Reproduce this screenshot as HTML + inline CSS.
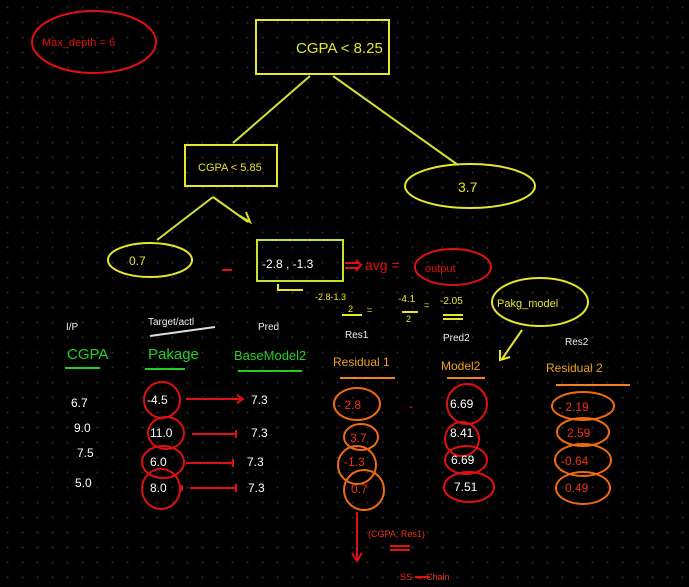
<!DOCTYPE html>
<html><head><meta charset="utf-8"><style>
html,body{margin:0;padding:0;background:#000;}
body{width:689px;height:587px;overflow:hidden;
background-image:radial-gradient(circle,#2a2a2a 0.8px,transparent 1.2px);background-size:15px 15px;}
svg{position:absolute;left:0;top:0;}
text{font-family:"Liberation Sans",sans-serif;}
</style></head><body>
<svg width="689" height="587" viewBox="0 0 689 587">
<g fill="none" stroke-width="2">
<ellipse cx="94" cy="42" rx="62" ry="31" stroke="#e01010"/>
<rect x="256" y="20" width="133" height="54" stroke="#e6e62a"/>
<line x1="310" y1="76" x2="233" y2="143" stroke="#d8e030"/>
<line x1="333" y1="76" x2="458" y2="165" stroke="#d8e030"/>
<rect x="185" y="145" width="92" height="41" stroke="#e6e62a"/>
<ellipse cx="470" cy="186" rx="65" ry="22" stroke="#e6e62a"/>
<line x1="213" y1="197" x2="157" y2="240" stroke="#d8e030"/>
<line x1="213" y1="197" x2="248" y2="222" stroke="#d8e030"/>
<path d="M240 216 L250 222 L246 212" stroke="#d8e030"/>
<ellipse cx="150" cy="260" rx="42" ry="17" stroke="#e6e62a"/>
<rect x="257" y="240" width="86" height="41" stroke="#c8e030"/>
<path d="M278 284 v6 h25" stroke="#e6e62a"/>
<ellipse cx="453" cy="267" rx="38" ry="18" stroke="#e01010"/>
<ellipse cx="540" cy="302" rx="48" ry="24" stroke="#e6e62a"/>
<path d="M522 330 L502 359 M500 350 L500 360 L510 357" stroke="#e6e62a"/>
<line x1="342" y1="315" x2="362" y2="315" stroke="#e6e62a"/>
<line x1="402" y1="312" x2="418" y2="312" stroke="#e6e62a"/>
<path d="M443 315 h20 M443 319 h20" stroke="#e6e62a"/>
<line x1="65" y1="368" x2="100" y2="368" stroke="#20d020"/>
<line x1="145" y1="369" x2="185" y2="369" stroke="#20d020"/>
<line x1="238" y1="371" x2="302" y2="371" stroke="#20d020"/>
<line x1="150" y1="336" x2="215" y2="327" stroke="#ddd"/>
<line x1="340" y1="378" x2="395" y2="378" stroke="#f08020"/>
<line x1="447" y1="378" x2="485" y2="378" stroke="#f08020"/>
<line x1="556" y1="385" x2="630" y2="385" stroke="#f08020"/>
<ellipse cx="162" cy="400" rx="18" ry="18" stroke="#e01010"/>
<ellipse cx="166" cy="433" rx="18" ry="16" stroke="#e01010"/>
<ellipse cx="163" cy="462" rx="21" ry="16" stroke="#e01010"/>
<ellipse cx="161" cy="489" rx="19" ry="20" stroke="#e01010"/>
<g stroke="#e01010">
<line x1="186" y1="399" x2="242" y2="399"/><path d="M237 395 L243 399 L237 403"/>
<line x1="192" y1="434" x2="236" y2="434"/><line x1="236" y1="430" x2="236" y2="438"/>
<line x1="186" y1="463" x2="233" y2="463"/><line x1="233" y1="459" x2="233" y2="467"/>
<line x1="190" y1="488" x2="236" y2="488"/><line x1="236" y1="484" x2="236" y2="492"/>
<line x1="182" y1="485" x2="182" y2="491"/>
<line x1="357" y1="512" x2="357" y2="560"/><path d="M352 553 L357 561 L362 553"/>
<line x1="232" y1="270" x2="222" y2="270"/>
<line x1="345" y1="263" x2="358" y2="263"/><line x1="345" y1="268" x2="358" y2="268"/><path d="M356 260 L361 265 L356 271"/>
<line x1="390" y1="546" x2="410" y2="546"/><line x1="390" y1="550" x2="410" y2="550"/>
<line x1="415" y1="577" x2="430" y2="577"/>
</g>
<g stroke="#f06a10">
<ellipse cx="357" cy="404" rx="23" ry="16"/>
<ellipse cx="361" cy="437" rx="17" ry="13"/>
<ellipse cx="357" cy="465" rx="19" ry="19"/>
<ellipse cx="364" cy="490" rx="20" ry="20"/>
<ellipse cx="583" cy="406" rx="31" ry="14"/>
<ellipse cx="583" cy="432" rx="26" ry="14"/>
<ellipse cx="583" cy="460" rx="28" ry="16"/>
<ellipse cx="583" cy="488" rx="27" ry="16"/>
</g>
<g stroke="#e01010">
<ellipse cx="467" cy="404" rx="20" ry="20"/>
<ellipse cx="462" cy="439" rx="17" ry="17"/>
<ellipse cx="466" cy="460" rx="21" ry="14"/>
<ellipse cx="469" cy="487" rx="25" ry="15"/>
</g>
</g>
<text x="42" y="46" font-size="11" fill="#e01010">Max_depth = 6</text>
<g fill="#e6e62a">
<text x="296" y="53" font-size="15">CGPA &lt; 8.25</text>
<text x="198" y="171" font-size="11">CGPA &lt; 5.85</text>
<text x="458" y="192" font-size="14">3.7</text>
<text x="129" y="265" font-size="12">0.7</text>
<text x="262" y="268" font-size="12" fill="#fff">-2.8 , -1.3</text>
<text x="315" y="300" font-size="9">-2.8-1.3</text>
<text x="348" y="312" font-size="9">2</text>
<text x="367" y="313" font-size="9">=</text>
<text x="398" y="302" font-size="10">-4.1</text>
<text x="406" y="322" font-size="9">2</text>
<text x="424" y="308" font-size="9">=</text>
<text x="440" y="304" font-size="10">-2.05</text>
<text x="497" y="307" font-size="11">Pakg_model</text>
</g>
<text x="365" y="270" font-size="14" fill="#e01010">avg =</text>
<text x="425" y="272" font-size="11" fill="#e01010">output</text>
<g fill="#eee" font-size="10">
<text x="66" y="330">I/P</text>
<text x="148" y="325">Target/actl</text>
<text x="258" y="330">Pred</text>
<text x="345" y="338">Res1</text>
<text x="443" y="341">Pred2</text>
<text x="565" y="345">Res2</text>
</g>
<g fill="#22d022" font-size="15">
<text x="67" y="359">CGPA</text>
<text x="148" y="359">Pakage</text>
<text x="234" y="360" font-size="13">BaseModel2</text>
</g>
<g fill="#f0a020" font-size="12">
<text x="333" y="366">Residual 1</text>
<text x="441" y="370">Model2</text>
<text x="546" y="372">Residual 2</text>
</g>
<g fill="#fff" font-size="12">
<text x="71" y="407">6.7</text><text x="74" y="432">9.0</text><text x="77" y="457">7.5</text><text x="75" y="487">5.0</text>
<text x="147" y="404">-4.5</text><text x="150" y="437">11.0</text><text x="150" y="466">6.0</text><text x="150" y="492">8.0</text>
<text x="251" y="404">7.3</text><text x="251" y="437">7.3</text><text x="247" y="466">7.3</text><text x="248" y="492">7.3</text>
<text x="450" y="408">6.69</text><text x="450" y="437">8.41</text><text x="451" y="464">6.69</text><text x="454" y="491">7.51</text>
</g>
<g fill="#f03010" font-size="12">
<text x="337" y="409">- 2.8</text><text x="350" y="442">3.7</text><text x="344" y="466">-1.3</text><text x="351" y="493">0.7</text>
<text x="409" y="410">-</text>
<text x="558" y="411">- 2.19</text><text x="567" y="437">2.59</text><text x="561" y="465">-0.64</text><text x="565" y="492">0.49</text>
<text x="368" y="537" font-size="9">(CGPA, Res1)</text>
<text x="400" y="580" font-size="9">SS → Chain</text>
</g>
</svg>
</body></html>
